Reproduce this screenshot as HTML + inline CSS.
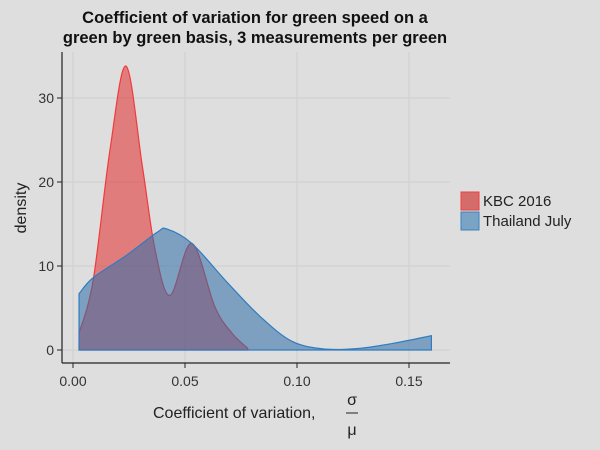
<!DOCTYPE html>
<html><head><meta charset="utf-8"><style>
body{margin:0;background:#dedede;font-family:"Liberation Sans",sans-serif;}
svg{display:block}
</style></head><body>
<svg width="600" height="450">
<rect width="600" height="450" fill="#dedede"/>
<g id="grid"></g>
<g id="marks"></g>
<line x1="62" y1="52" x2="62" y2="363" stroke="#222" stroke-width="1.2"/>
<line x1="62" y1="363" x2="450" y2="363" stroke="#222" stroke-width="1.2"/>
<g id="ticks"></g>
<text x="255" y="23" text-anchor="middle" font-weight="bold" font-size="16.5" fill="#111">Coefficient of variation for green speed on a</text>
<text x="255" y="43" text-anchor="middle" font-weight="bold" font-size="16.5" fill="#111">green by green basis, 3 measurements per green</text>
<text x="26" y="208" text-anchor="middle" font-size="16" fill="#222" transform="rotate(-90 26 208)">density</text>
<text x="153" y="418" font-size="16" fill="#222">Coefficient of variation,</text>
<text x="352" y="405" text-anchor="middle" font-size="16" fill="#222">σ</text>
<line x1="346" y1="413" x2="358" y2="413" stroke="#222"/>
<text x="352" y="435" text-anchor="middle" font-size="16" fill="#222">μ</text>
<g>
<rect x="461" y="192" width="18" height="18" fill="#d46c6c" stroke="#f04040"/>
<text x="483" y="206" font-size="15" fill="#222">KBC 2016</text>
<rect x="461" y="212" width="18" height="18" fill="#7ba3c3" stroke="#3a82c0"/>
<text x="483" y="226" font-size="15" fill="#222">Thailand July</text>
</g>
</svg>
<script>
const xTicks=[0,0.05,0.10,0.15];
const xTickLabels=["0.00","0.05","0.10","0.15"];
const yTicks=[0,10,20,30];
const yTickLabels=["0","10","20","30"];
const kbcX=[0.0027,0.009,0.0165,0.0237,0.031,0.0366,0.0433,0.053,0.0634,0.071,0.078];
const kbcY=[2,8.3,23.8,33.8,21.8,12,6.5,12.7,5.1,2,0.2];
const thaiX=[0.0027,0.009,0.024,0.0375,0.042,0.053,0.069,0.0835,0.098,0.113,0.128,0.143,0.160];
const thaiY=[6.7,8.6,11.3,14,14.4,12.7,8,4,1,0.1,0.2,0.8,1.7];
const xs=v=>73+v*2240, ys=v=>350-v*8.4;
const NS="http://www.w3.org/2000/svg";
function mk(t,a,p){const e=document.createElementNS(NS,t);for(const k in a)e.setAttribute(k,a[k]);p.appendChild(e);return e;}
const grid=document.getElementById('grid'),ticks=document.getElementById('ticks'),marks=document.getElementById('marks');
xTicks.forEach((v,i)=>{
 const g=mk('line',{x1:xs(v),x2:xs(v),y1:52,y2:363,stroke:'#cfcfcf'},grid);
 
 
 const t=mk('line',{x1:xs(v),x2:xs(v),y1:363,y2:368,stroke:'#222'},ticks);
 
 
 const l=mk('text',{x:xs(v),y:386,'text-anchor':'middle','font-size':14,fill:'#333'},ticks);
 l.textContent=xTickLabels[i];
 
 
});
yTicks.forEach((v,i)=>{
 const g=mk('line',{x1:62,x2:450,y1:ys(v),y2:ys(v),stroke:'#cfcfcf'},grid);
 
 
 const t=mk('line',{x1:57,x2:62,y1:ys(v),y2:ys(v),stroke:'#222'},ticks);
 
 
 const l=mk('text',{x:54,y:ys(v)+5,'text-anchor':'end','font-size':14,fill:'#333'},ticks);
 l.textContent=yTickLabels[i];
 
 
});
function path(X,Y){
 const P=X.map((x,i)=>[xs(x),ys(Y[i])]);
 let d=`M${P[0][0]},${ys(0)} L${P[0][0]},${P[0][1]}`;
 for(let i=0;i<P.length-1;i++){
  const p0=P[Math.max(i-1,0)],p1=P[i],p2=P[i+1],p3=P[Math.min(i+2,P.length-1)];
  const c1=[p1[0]+(p2[0]-p0[0])/6,p1[1]+(p2[1]-p0[1])/6],c2=[p2[0]-(p3[0]-p1[0])/6,p2[1]-(p3[1]-p1[1])/6];
  d+=` C${c1[0]},${Math.min(c1[1],ys(0))} ${c2[0]},${Math.min(c2[1],ys(0))} ${p2[0]},${p2[1]}`;
 }
 return d+` L${P[P.length-1][0]},${ys(0)} Z`;
}
const r=mk('path',{d:path(kbcX,kbcY),fill:'rgba(228,26,28,0.5)',stroke:'#f03a3a','stroke-width':1.2},marks);


const b=mk('path',{d:path(thaiX,thaiY),fill:'rgba(45,110,170,0.55)',stroke:'#2f7cc0','stroke-width':1.2},marks);


</script>
</body></html>
